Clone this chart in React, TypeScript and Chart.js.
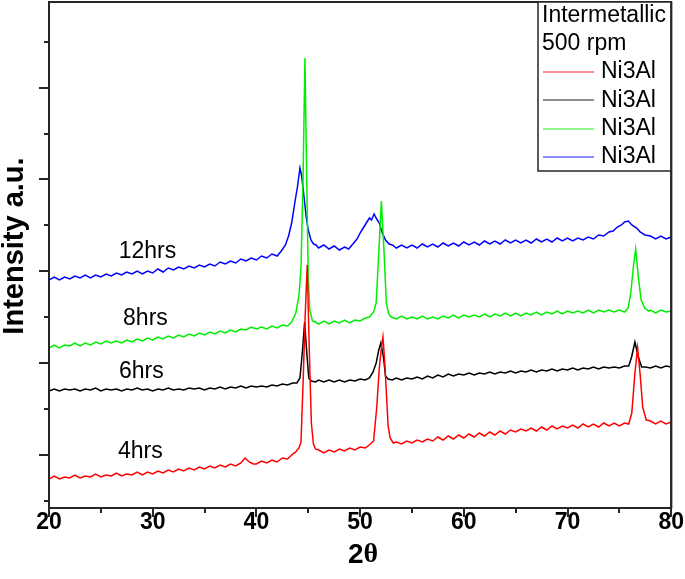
import React, { useEffect, useRef } from 'react';
import { Chart, registerables } from 'chart.js';

Chart.register(...registerables);

// ---- axis ticks ----
const xMajorTicks = [20, 30, 40, 50, 60, 70, 80];
const xMinorTicks = [25, 35, 45, 55, 65, 75];
const yMajorTicks = [53.2, 145.0, 236.8, 328.6, 420.4];
const yMinorTicks = [7.3, 99.1, 190.9, 282.7, 374.5, 466.3];

// ---- legend / labels ----
const legendTitle = ['Intermetallic', '500 rpm'];
const seriesNames = ['Ni3Al', 'Ni3Al', 'Ni3Al', 'Ni3Al'];
const sampleLabels = ['4hrs', '6hrs', '8hrs', '12hrs'];
const sampleLabelX = [28.8, 28.9, 29.3, 29.5];
const sampleLabelY = [56, 136, 189, 256];
const seriesColors = ['#ff0000', '#000000', '#00ee00', '#0000ff'];

// ---- series: 4hrs (red) ----
const redX = [20, 20.5, 21, 21.5, 22, 22.5, 23, 23.5, 24, 24.5, 25, 25.5, 26, 26.5, 27, 27.5, 28, 28.5, 29, 29.5, 30, 30.5, 31, 31.5, 32, 32.5, 33, 33.5, 34, 34.5, 35, 35.5, 36, 36.5, 37, 37.5, 38, 38.5, 38.9, 39.3, 39.7, 40, 40.5, 41, 41.5, 42, 42.5, 43, 43.5, 43.8, 44.1, 44.3, 44.5, 44.7, 44.9, 45.1, 45.3, 45.5, 45.7, 46, 46.5, 47, 47.5, 48, 48.5, 49, 49.5, 50, 50.5, 51, 51.3, 51.6, 51.85, 52.05, 52.2, 52.35, 52.5, 52.7, 52.9, 53.2, 53.5, 54, 54.5, 55, 55.5, 56, 56.5, 57, 57.5, 58, 58.5, 59, 59.5, 60, 60.5, 61, 61.5, 62, 62.5, 63, 63.5, 64, 64.5, 65, 65.5, 66, 66.5, 67, 67.5, 68, 68.5, 69, 69.5, 70, 70.5, 71, 71.5, 72, 72.5, 73, 73.5, 74, 74.5, 75, 75.5, 75.9, 76.2, 76.5, 76.76, 77.0, 77.25, 77.6, 78, 78.5, 79, 79.5, 80];
const redY = [29, 32, 29, 31, 30, 33, 30, 32, 31, 34, 31, 33, 32, 35, 32, 34, 33, 36, 33, 36, 34, 37, 35, 38, 36, 39, 37, 40, 38, 41, 39, 42, 40, 43, 41, 44, 42, 45, 50, 46, 44, 44, 47, 45, 48, 46, 50, 49, 54, 56, 60, 66, 125, 191, 243, 158, 85, 64, 59, 58, 55, 58, 56, 59, 57, 60, 58, 61, 60, 64, 67, 100, 140, 160, 171, 150, 122, 82, 70, 65, 66, 64, 67, 65, 68, 66, 69, 67, 71, 68, 72, 69, 73, 70, 74, 71, 75, 72, 76, 73, 77, 74, 78, 76, 79, 77, 80, 77, 81, 78, 82, 79, 82, 80, 83, 80, 84, 81, 84, 81, 85, 82, 85, 82, 85, 84, 95, 135, 160, 134, 101, 88, 87, 84, 87, 84, 86];

// ---- series: 6hrs (black) ----
const blackX = [20, 20.5, 21, 21.5, 22, 22.5, 23, 23.5, 24, 24.5, 25, 25.5, 26, 26.5, 27, 27.5, 28, 28.5, 29, 29.5, 30, 30.5, 31, 31.5, 32, 32.5, 33, 33.5, 34, 34.5, 35, 35.5, 36, 36.5, 37, 37.5, 38, 38.5, 39, 39.5, 40, 40.5, 41, 41.5, 42, 42.5, 43, 43.5, 43.9, 44.2, 44.45, 44.65, 44.84, 45.05, 45.3, 45.7, 46, 46.5, 47, 47.5, 48, 48.5, 49, 49.5, 50, 50.5, 50.9, 51.25, 51.55, 51.8, 52.0, 52.25, 52.45, 52.7, 53.1, 53.5, 54, 54.5, 55, 55.5, 56, 56.5, 57, 57.5, 58, 58.5, 59, 59.5, 60, 60.5, 61, 61.5, 62, 62.5, 63, 63.5, 64, 64.5, 65, 65.5, 66, 66.5, 67, 67.5, 68, 68.5, 69, 69.5, 70, 70.5, 71, 71.5, 72, 72.5, 73, 73.5, 74, 74.5, 75, 75.5, 75.9, 76.18, 76.5, 76.83, 77.15, 77.5, 78, 78.5, 79, 79.5, 80];
const blackY = [117, 119, 117, 119, 118, 119, 117, 119, 118, 120, 117, 119, 118, 119, 117, 119, 118, 120, 118, 119, 117, 119, 118, 120, 118, 119, 118, 120, 119, 120, 118, 120, 119, 121, 119, 121, 120, 122, 120, 122, 121, 122, 121, 123, 122, 124, 123, 125, 125, 130, 158, 186, 158, 130, 127, 126, 128, 126, 128, 126, 128, 126, 128, 127, 129, 128, 130, 136, 145, 158, 165, 151, 132, 129, 128, 130, 128, 130, 129, 131, 129, 132, 130, 133, 131, 134, 132, 134, 133, 135, 133, 135, 134, 136, 134, 136, 135, 137, 135, 137, 136, 138, 136, 138, 137, 139, 137, 139, 138, 140, 138, 140, 139, 141, 139, 141, 140, 141, 140, 142, 142, 151, 166, 151, 141, 141, 140, 142, 140, 142, 141];

// ---- series: 8hrs (green) ----
const greenX = [20, 20.5, 21, 21.5, 22, 22.5, 23, 23.5, 24, 24.5, 25, 25.5, 26, 26.5, 27, 27.5, 28, 28.5, 29, 29.5, 30, 30.5, 31, 31.5, 32, 32.5, 33, 33.5, 34, 34.5, 35, 35.5, 36, 36.5, 37, 37.5, 38, 38.5, 39, 39.5, 40, 40.5, 41, 41.5, 42, 42.5, 43, 43.4, 43.8, 44.1, 44.3, 44.5, 44.68, 44.85, 45.0, 45.15, 45.4, 45.7, 46, 46.5, 47, 47.5, 48, 48.5, 49, 49.5, 50, 50.5, 50.9, 51.3, 51.55, 51.8, 52.05, 52.3, 52.53, 52.75, 53.0, 53.5, 54, 54.5, 55, 55.5, 56, 56.5, 57, 57.5, 58, 58.5, 59, 59.5, 60, 60.5, 61, 61.5, 62, 62.5, 63, 63.5, 64, 64.5, 65, 65.5, 66, 66.5, 67, 67.5, 68, 68.5, 69, 69.5, 70, 70.5, 71, 71.5, 72, 72.5, 73, 73.5, 74, 74.5, 75, 75.5, 75.85, 76.1, 76.35, 76.57, 76.83, 77.1, 77.45, 77.8, 78, 78.5, 79, 79.5, 80];
const greenY = [160, 163, 160, 163, 162, 165, 162, 165, 163, 166, 164, 167, 165, 167, 165, 168, 166, 169, 167, 170, 168, 171, 169, 172, 170, 173, 171, 174, 172, 175, 173, 176, 174, 177, 175, 178, 176, 179, 178, 181, 179, 181, 179, 182, 180, 183, 182, 186, 195, 212, 240, 330, 450, 330, 230, 198, 187, 186, 184, 187, 184, 187, 185, 188, 185, 188, 187, 190, 191, 196, 205, 255, 307, 258, 205, 194, 191, 189, 192, 189, 191, 189, 192, 189, 191, 189, 192, 190, 193, 190, 193, 191, 193, 191, 194, 191, 194, 192, 195, 192, 195, 192, 195, 193, 196, 193, 196, 194, 197, 194, 197, 195, 197, 195, 198, 195, 198, 196, 198, 196, 198, 196, 200, 215, 241, 259, 231, 208, 200, 197, 198, 195, 198, 196, 197];

// ---- series: 12hrs (blue) ----
const blueX = [20, 20.5, 21, 21.5, 22, 22.5, 23, 23.5, 24, 24.5, 25, 25.5, 26, 26.5, 27, 27.5, 28, 28.5, 29, 29.5, 30, 30.5, 31, 31.5, 32, 32.5, 33, 33.5, 34, 34.5, 35, 35.5, 36, 36.5, 37, 37.5, 38, 38.5, 39, 39.5, 40, 40.5, 41, 41.5, 42, 42.4, 42.8, 43.1, 43.4, 43.7, 43.97, 44.2, 44.35, 44.5, 44.8, 45.0, 45.26, 45.5, 45.75, 46, 46.5, 47, 47.5, 48, 48.5, 48.9, 49.3, 49.7, 50.0, 50.3, 50.6, 50.9, 51.1, 51.35, 51.6, 51.85, 52.1, 52.45, 52.8, 53.1, 53.5, 54, 54.5, 55, 55.5, 56, 56.5, 57, 57.5, 58, 58.5, 59, 59.5, 60, 60.5, 61, 61.5, 62, 62.5, 63, 63.5, 64, 64.5, 65, 65.5, 66, 66.5, 67, 67.5, 68, 68.5, 69, 69.5, 70, 70.5, 71, 71.5, 72, 72.5, 73, 73.5, 74, 74.4, 74.8, 75.2, 75.5, 75.87, 76.2, 76.67, 77.0, 77.47, 78, 78.5, 79, 79.5, 80];
const blueY = [228, 231, 228, 231, 229, 232, 230, 233, 230, 233, 231, 234, 232, 235, 233, 236, 234, 237, 234, 237, 235, 239, 236, 240, 238, 241, 239, 242, 240, 243, 241, 244, 242, 246, 244, 247, 245, 249, 247, 250, 248, 252, 250, 254, 252, 257, 263, 272, 285, 305, 322, 340, 333, 320, 291, 278, 268, 264, 263, 260, 263, 259, 262, 258, 261, 259, 264, 269, 275, 280, 285, 290, 288, 294, 289, 285, 276, 268, 264, 263, 260, 263, 260, 263, 260, 264, 261, 264, 261, 265, 262, 265, 262, 266, 263, 266, 263, 267, 264, 267, 264, 268, 265, 268, 265, 268, 265, 269, 266, 269, 266, 270, 267, 270, 267, 270, 268, 271, 269, 273, 272, 276, 277, 281, 283, 286, 287, 283, 280, 276, 273, 272, 269, 272, 269, 271];

const toPoints = (xs: number[], ys: number[]) => xs.map((x, i) => ({ x, y: ys[i] }));

const AXIS_COLOR = '#262626';
const SANS = '"Liberation Sans", Arial, sans-serif';

const decorPlugin = {
  id: 'decor',
  afterDraw(chart: any) {
    const { ctx, chartArea: a, scales } = chart;
    const xs = scales.x;
    const ys = scales.y;
    ctx.save();
    // frame
    ctx.strokeStyle = AXIS_COLOR;
    ctx.lineWidth = 2;
    ctx.strokeRect(a.left, a.top, a.right - a.left, a.bottom - a.top);
    // ticks
    ctx.beginPath();
    xMajorTicks.forEach((v) => {
      const px = Math.round(xs.getPixelForValue(v));
      ctx.moveTo(px, a.bottom);
      ctx.lineTo(px, a.bottom + 9);
    });
    xMinorTicks.forEach((v) => {
      const px = Math.round(xs.getPixelForValue(v));
      ctx.moveTo(px, a.bottom);
      ctx.lineTo(px, a.bottom + 5);
    });
    yMajorTicks.forEach((v) => {
      const py = Math.round(ys.getPixelForValue(v));
      ctx.moveTo(a.left, py);
      ctx.lineTo(a.left - 10, py);
    });
    yMinorTicks.forEach((v) => {
      const py = Math.round(ys.getPixelForValue(v));
      ctx.moveTo(a.left, py);
      ctx.lineTo(a.left - 5, py);
    });
    ctx.stroke();

    // y axis title
    ctx.fillStyle = '#000';
    ctx.font = 'bold 29px ' + SANS;
    ctx.textAlign = 'center';
    ctx.textBaseline = 'middle';
    ctx.save();
    ctx.translate(15, 246);
    ctx.rotate(-Math.PI / 2);
    ctx.fillText('Intensity a.u.', 0, 0);
    ctx.restore();

    // x axis title: "2" sans bold + theta serif bold
    const cx = (a.left + a.right) / 2 + 3;
    ctx.font = 'bold 28px ' + SANS;
    const w2 = ctx.measureText('2').width;
    ctx.font = 'bold 28px "Liberation Serif", "Times New Roman", serif';
    const wt = ctx.measureText('\u03b8').width;
    const start = cx - (w2 + wt) / 2;
    ctx.textAlign = 'left';
    ctx.font = 'bold 28px ' + SANS;
    ctx.fillText('2', start, 555);
    ctx.font = 'bold 28px "Liberation Serif", "Times New Roman", serif';
    ctx.fillText('\u03b8', start + w2, 555);
    ctx.textAlign = 'center';

    // sample labels
    ctx.font = '23px ' + SANS;
    sampleLabels.forEach((t, i) => {
      ctx.fillText(t, xs.getPixelForValue(sampleLabelX[i]), ys.getPixelForValue(sampleLabelY[i]));
    });

    // legend box
    const bl = 538;
    const bt = a.top;
    const br = a.right;
    const bb = 171;
    ctx.fillStyle = '#fff';
    ctx.fillRect(bl, bt, br - bl, bb - bt);
    ctx.strokeStyle = AXIS_COLOR;
    ctx.lineWidth = 1.5;
    ctx.strokeRect(bl, bt, br - bl, bb - bt);
    ctx.lineWidth = 2;
    ctx.beginPath();
    ctx.moveTo(br, a.top);
    ctx.lineTo(br, a.bottom);
    ctx.stroke();

    ctx.fillStyle = '#000';
    ctx.font = '23px ' + SANS;
    ctx.textAlign = 'left';
    ctx.fillText(legendTitle[0], 542, 16);
    ctx.fillText(legendTitle[1], 542, 44);
    chart.data.datasets.forEach((ds: any, i: number) => {
      const y = 72 + i * 28.3;
      ctx.strokeStyle = ds.borderColor;
      ctx.globalAlpha = 0.6;
      ctx.lineWidth = 1.5;
      ctx.beginPath();
      ctx.moveTo(543, Math.round(y));
      ctx.lineTo(594, Math.round(y));
      ctx.stroke();
      ctx.globalAlpha = 1;
      ctx.fillText(seriesNames[i], 601, y);
    });
    ctx.restore();
  },
};

export default function App() {
  const ref = useRef<HTMLCanvasElement | null>(null);
  useEffect(() => {
    document.body.style.margin = '0';
    const canvas = ref.current;
    if (!canvas) return;
    const seriesData = [
      toPoints(redX, redY),
      toPoints(blackX, blackY),
      toPoints(greenX, greenY),
      toPoints(blueX, blueY),
    ];
    const chart = new Chart(canvas, {
      type: 'line',
      data: {
        datasets: seriesData.map((d, i) => ({
          label: seriesNames[i],
          data: d,
          borderColor: seriesColors[i],
          backgroundColor: seriesColors[i],
          borderWidth: 1.5,
          pointRadius: 0,
          tension: 0,
          fill: false,
        })),
      },
      options: {
        animation: false,
        responsive: false,
        maintainAspectRatio: false,
        layout: { padding: { left: 0, right: 12, top: 2, bottom: 0 } },
        plugins: { legend: { display: false }, tooltip: { enabled: false }, title: { display: false } },
        scales: {
          x: {
            type: 'linear',
            min: 20,
            max: 80,
            afterBuildTicks: (s: any) => {
              s.ticks = xMajorTicks.map((v) => ({ value: v }));
            },
            afterFit: (s: any) => {
              s.height = 71;
            },
            grid: { display: false, drawTicks: false },
            border: { display: false },
            ticks: {
              color: '#000',
              padding: 1,
              maxRotation: 0,
              font: { family: SANS, size: 23, weight: 'bold' },
            },
          },
          y: {
            type: 'linear',
            min: 0,
            max: 506,
            afterFit: (s: any) => {
              s.width = 49;
            },
            grid: { display: false, drawTicks: false },
            border: { display: false },
            ticks: { display: false },
          },
        },
      },
      plugins: [decorPlugin],
    } as any);
    return () => chart.destroy();
  }, []);
  return (
    <div style={{ width: 685, height: 579 }}>
      <canvas ref={ref} width={685} height={579} style={{ display: 'block' }} />
    </div>
  );
}
